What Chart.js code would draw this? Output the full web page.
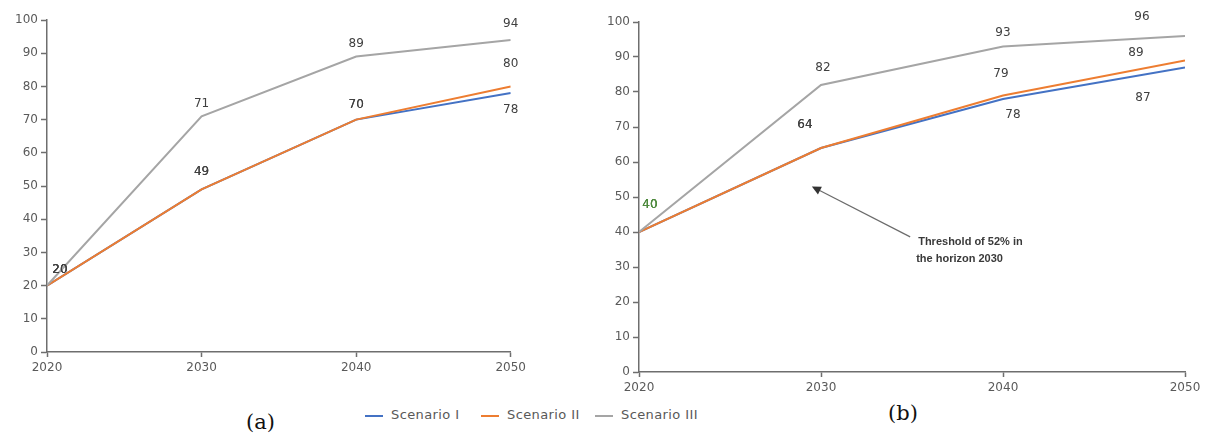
<!DOCTYPE html>
<html>
<head>
<meta charset="utf-8">
<script src="https://cdn.jsdelivr.net/npm/chart.js@4.4.0/dist/chart.umd.min.js"></script>
<style>
  body { margin: 0; background: #fff; width: 1208px; height: 439px; position: relative; overflow: hidden; font-family: "DejaVu Sans", sans-serif; }
  canvas { position: absolute; top: 0; }
  #chartA { left: 0; }
  #chartB { left: 590px; }
  .item { position: absolute; top: 406px; font-size: 13px; letter-spacing: 0.4px; color: #595959; line-height: 17px; white-space: nowrap; }
  .item i { display: inline-block; width: 18px; height: 2px; vertical-align: middle; margin-right: 8px; }
  .panel { position: absolute; font-family: "DejaVu Serif", serif; font-size: 21px; line-height: 26px; color: #111; }
</style>
</head>
<body>
<canvas id="chartA" width="530" height="385"></canvas>
<canvas id="chartB" width="618" height="400"></canvas>

<div class="item" style="left:365px"><i style="background:#4472C4"></i>Scenario I</div>
<div class="item" style="left:481px"><i style="background:#ED7D31"></i>Scenario II</div>
<div class="item" style="left:595px"><i style="background:#A5A5A5"></i>Scenario III</div>
<div class="panel" style="left:246px; top:409px">(a)</div>
<div class="panel" style="left:888px; top:400px">(b)</div>

<script>
// Data
const years = [2020, 2030, 2040, 2050];
const seriesNames = ['Scenario I', 'Scenario II', 'Scenario III'];
const seriesColors = ['#4472C4', '#ED7D31', '#A5A5A5'];

// panel (a)
const aScenario1 = [20, 49, 70, 78];
const aScenario2 = [20, 49, 70, 80];
const aScenario3 = [20, 71, 89, 94];

// panel (b)
const bScenario1 = [40, 64, 78, 87];
const bScenario2 = [40, 64, 79, 89];
const bScenario3 = [40, 82, 93, 96];

const noteText = ['Threshold of 52% in', 'the horizon 2030'];

// label offsets (px) per series / point
const aOffsets = [
    [[13, -16], [0, -17], [0, -15], [0, 17]],
    [[13, -16], [0, -17], [0, -15], [0, -23]],
    [[13, -16], [0, -12], [0, -13], [0, -16]]
];
const bOffsets = [
    [[11, -27], [-16, -23], [10, 16], [-42, 30]],
    [[11, -27], [-16, -23], [-2, -22], [-49, -8]],
    [[11, -27], [2, -17], [0, -14], [-43, -19]]
];

function toPoints(values) {
    return values.map((v, i) => ({ x: years[i], y: v }));
}

/**
 * Draw value labels next to points
 */
const pointLabels = {
    id: 'pointLabels',
    afterDatasetsDraw(chart, args, opts) {
        const ctx = chart.ctx;
        ctx.save();
        ctx.font = '12px "DejaVu Sans"';
        ctx.textAlign = 'center';
        ctx.textBaseline = 'middle';
        chart.data.datasets.forEach((ds, i) => {
            const meta = chart.getDatasetMeta(i);
            meta.data.forEach((pt, j) => {
                const off = opts.offsets[i][j];
                ctx.fillStyle = (opts.firstColor && j === 0) ? opts.firstColor : '#404040';
                ctx.fillText(String(ds.data[j].y), pt.x + off[0], pt.y + off[1]);
            });
        });
        ctx.restore();
    }
};

// Arrow + note on panel (b)
const thresholdNote = {
    id: 'thresholdNote',
    afterDatasetsDraw(chart) {
        const xs = chart.scales.x, ys = chart.scales.y;
        const tipX = xs.getPixelForValue(2029.5), tipY = ys.getPixelForValue(53);
        const endX = xs.getPixelForValue(2034.9), endY = ys.getPixelForValue(38.6);
        const ctx = chart.ctx;
        ctx.save();
        ctx.strokeStyle = '#6b6b6b';
        ctx.fillStyle = '#333';
        ctx.lineWidth = 1.2;
        const ang = Math.atan2(endY - tipY, endX - tipX);
        ctx.beginPath();
        ctx.moveTo(tipX + Math.cos(ang) * 6, tipY + Math.sin(ang) * 6);
        ctx.lineTo(endX, endY);
        ctx.stroke();
        // head
        ctx.beginPath();
        ctx.moveTo(tipX, tipY);
        ctx.lineTo(tipX + Math.cos(ang + 0.45) * 10, tipY + Math.sin(ang + 0.45) * 10);
        ctx.lineTo(tipX + Math.cos(ang - 0.45) * 10, tipY + Math.sin(ang - 0.45) * 10);
        ctx.closePath();
        ctx.fill();
        ctx.font = 'bold 11px "Liberation Sans"';
        ctx.textBaseline = 'middle';
        ctx.fillStyle = '#3a3a3a';
        ctx.fillText(noteText[0], endX + 8, endY + 5);
        ctx.fillText(noteText[1], endX + 6, endY + 22);
        ctx.restore();
    }
};

function buildDatasets(list) {
    return list.map((vals, i) => ({
        label: seriesNames[i],
        data: toPoints(vals),
        borderColor: seriesColors[i],
        backgroundColor: seriesColors[i],
        borderWidth: 2,
        pointRadius: 0,
        tension: 0,
        order: 3 - i
    }));
}

function axisOptions(yWidth, xHeight) {
    const tickFont = { family: '"DejaVu Sans"', size: 12 };
    return {
        x: {
            type: 'linear',
            min: 2020, max: 2050,
            afterFit: s => { s.height = xHeight; },
            border: { color: '#6e6e6e', width: 1.5 },
            grid: { drawOnChartArea: false, color: '#6e6e6e', tickLength: 5, tickWidth: 1.5 },
            ticks: { stepSize: 10, color: '#5a5a5a', font: tickFont, padding: 4, callback: v => String(v), maxRotation: 0 }
        },
        y: {
            min: 0, max: 100,
            afterFit: s => { s.width = yWidth; },
            border: { color: '#6e6e6e', width: 1.5 },
            grid: { drawOnChartArea: false, color: '#6e6e6e', tickLength: 6, tickWidth: 1.5 },
            ticks: { stepSize: 10, color: '#5a5a5a', font: tickFont, padding: 3 }
        }
    };
}

// Chart (a)
new Chart(document.getElementById('chartA').getContext('2d'), {
    type: 'line',
    data: { datasets: buildDatasets([aScenario1, aScenario2, aScenario3]) },
    options: {
        responsive: false,
        animation: false,
        layout: { padding: { left: 0, top: 20, right: 19, bottom: 0 } },
        scales: axisOptions(47, 33),
        plugins: {
            legend: { display: false },
            tooltip: { enabled: false },
            pointLabels: { offsets: aOffsets }
        }
    },
    plugins: [pointLabels]
});

// Chart (b)
new Chart(document.getElementById('chartB').getContext('2d'), {
    type: 'line',
    data: { datasets: buildDatasets([bScenario1, bScenario2, bScenario3]) },
    options: {
        responsive: false,
        animation: false,
        layout: { padding: { left: 0, top: 22, right: 23, bottom: 0 } },
        scales: axisOptions(49, 28),
        plugins: {
            legend: { display: false },
            tooltip: { enabled: false },
            pointLabels: { offsets: bOffsets, firstColor: '#4e8a3e' }
        }
    },
    plugins: [pointLabels, thresholdNote]
});
</script>
</body>
</html>
